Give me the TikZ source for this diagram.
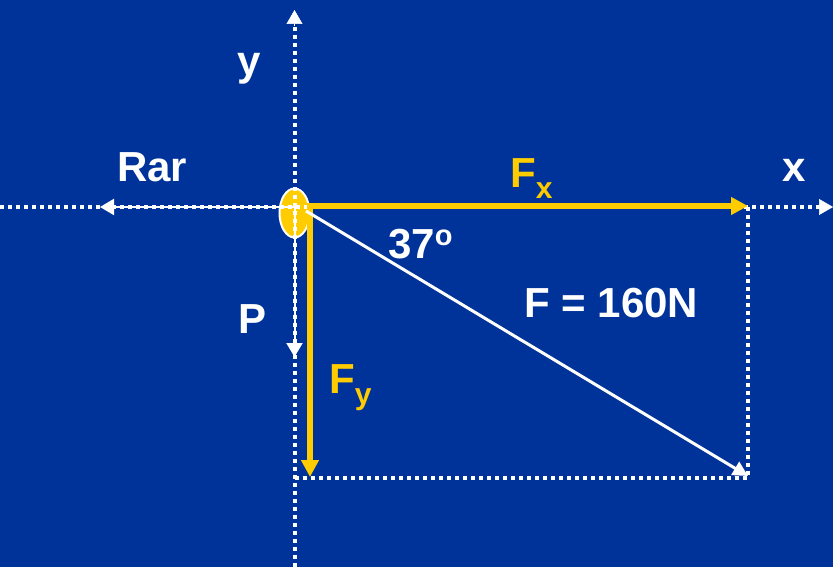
\documentclass[tikz,border=0pt]{standalone}
\usepackage{fontspec}
\setmainfont{Liberation Sans}
\usetikzlibrary{arrows.meta,shapes.geometric}
\definecolor{bg}{HTML}{003399}
\definecolor{gold}{HTML}{FFCC00}
\newcommand\lowsub[1]{\raisebox{-11pt}{\fontsize{30}{30}\selectfont #1}}
\newcommand\highsup[1]{\raisebox{13pt}{\fontsize{29}{29}\selectfont #1}}
\begin{document}
\begin{tikzpicture}[x=1pt,y=-1pt,
  dots/.style={white,line width=4pt,dash pattern=on 4pt off 4pt},
  axtip/.style={white,line width=0.5pt,-{Triangle[length=14pt,width=16pt]}},
  whitearrow/.style={white,line width=2pt,-{Triangle[length=14pt,width=16pt]}},
  goldarrow/.style={gold,line width=6pt,-{Triangle[length=17pt,width=17pt]}},
  lbl/.style={anchor=base west,inner sep=0pt,text=white,
    font=\fontsize{42}{50}\selectfont\bfseries},
  goldlbl/.style={lbl,text=gold}]
\fill[bg] (0,0) rectangle (833,567);
\useasboundingbox (0,0) rectangle (833,567);
% coordinates
\coordinate (O) at (294.5,207);
\coordinate (ytop) at (294.5,10);
\coordinate (ybot) at (294.5,567);
\coordinate (xleft) at (0,207);
\coordinate (xright) at (833,207);
\coordinate (Fxend) at (748,206);
\coordinate (Fyend) at (310,477);
\coordinate (Fend) at (748,476);
\coordinate (corner) at (748,478);
\coordinate (cornerL) at (294.5,478);
\coordinate (Rarend) at (100,207);
\coordinate (Pend) at (294.5,357);
% object
\node[ellipse,draw=white,line width=2pt,fill=gold,minimum width=30pt,
  minimum height=49pt,inner sep=0pt] (obj) at (294.5,213) {};
% axes
\draw[dots] (ybot) -- (294.5,24);
\draw[axtip] (294.5,26) -- (ytop);
\draw[dots] (xleft) -- (822,207);
\draw[axtip] (820,207) -- (xright);
% dotted projections
\draw[dots] (748,207) -- (corner);
\draw[dots] (cornerL) -- (corner);
% forces
\draw[whitearrow] (O) -- (Rarend);
\draw[whitearrow] (O) -- (Pend);
\draw[goldarrow] (307,206) -- (Fxend);
\draw[goldarrow] (310,204) -- (Fyend);
\draw[white,line width=3pt,-{Triangle[length=15pt,width=15pt]}] (306,211) -- (Fend);
% labels
\node[lbl] (ylab) at (237,76) {y};
\node[lbl] (rarlab) at (117,182) {Rar};
\node[goldlbl] (fxlab) at (510,187) {F\lowsub{x}};
\node[lbl] (xlab) at (782,182) {x};
\node[lbl] (anglab) at (388,258) {37\highsup{o}};
\node[lbl] (flab) at (524,317) {F = 160N};
\node[lbl] (plab) at (238,333) {P};
\node[goldlbl] (fylab) at (329,393) {F\lowsub{y}};
\end{tikzpicture}
\end{document}
